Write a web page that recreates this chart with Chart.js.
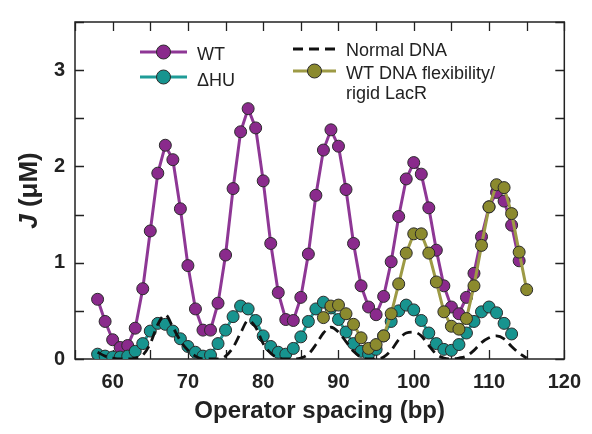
<!DOCTYPE html>
<html>
<head>
<meta charset="utf-8">
<script src="https://cdn.jsdelivr.net/npm/chart.js@4.4.1/dist/chart.umd.min.js"></script>
<style>
  html, body { margin: 0; padding: 0; background: #fff; }
  #wrap { width: 592px; height: 434px; }
</style>
</head>
<body>
<div id="wrap"><canvas id="chart" width="592" height="434"></canvas></div>
<script>
// operator spacing (bp) for each series
const wtSpacing = [58, 59, 60, 61, 62, 63, 64, 65, 66, 67, 68, 69, 70, 71, 72, 73, 74, 75, 76, 77, 78, 79, 80, 81, 82, 83, 84, 85, 86,
  87, 88, 89, 90, 91, 92, 93, 94, 95, 96, 97, 98, 99, 100, 101, 102, 103, 104, 105, 106, 107, 108, 109, 110, 111, 112, 113, 114];
const wtJ = [0.62, 0.39, 0.20, 0.12, 0.14, 0.32, 0.73, 1.33, 1.93, 2.22, 2.07, 1.56, 0.97, 0.52, 0.30, 0.30, 0.58, 1.08, 1.77, 2.36,
  2.60, 2.40, 1.85, 1.20, 0.69, 0.41, 0.40, 0.64, 1.09, 1.70, 2.17, 2.38, 2.21, 1.76, 1.20, 0.76, 0.54, 0.46, 0.65, 1.01, 1.48, 1.87,
  2.04, 1.92, 1.57, 1.13, 0.76, 0.54, 0.47, 0.64, 0.89, 1.27, 1.58, 1.73, 1.64, 1.39, 1.02];

const huSpacing = [58, 59, 60, 61, 62, 63, 64, 65, 66, 67, 68, 69, 70, 71, 72, 73, 74, 75, 76, 77, 78, 79, 80, 81, 82, 83, 84, 85, 86,
  87, 88, 89, 90, 91, 92, 93, 94, 95, 96, 97, 98, 99, 100, 101, 102, 103, 104, 105, 106, 107, 108, 109, 110, 111, 112, 113];
const huJ = [0.05, 0.03, 0.02, 0.02, 0.03, 0.08, 0.16, 0.29, 0.37, 0.36, 0.29, 0.21, 0.13, 0.07, 0.03, 0.04, 0.16, 0.30, 0.44, 0.55,
  0.52, 0.40, 0.24, 0.13, 0.07, 0.05, 0.11, 0.23, 0.39, 0.52, 0.59, 0.53, 0.41, 0.28, 0.16, 0.08, 0.05, 0.10, 0.24, 0.39, 0.50, 0.56,
  0.51, 0.40, 0.27, 0.16, 0.10, 0.09, 0.15, 0.27, 0.39, 0.49, 0.54, 0.48, 0.37, 0.26];

const rigidSpacing = [88, 89, 90, 91, 92, 93, 94, 95, 96, 97, 98, 99, 100, 101, 102, 103, 104, 105, 106, 107, 108, 109, 110, 111,
  112, 113, 114, 115];
const rigidJ = [0.43, 0.55, 0.56, 0.47, 0.36, 0.22, 0.11, 0.15, 0.24, 0.47, 0.78, 1.10, 1.30, 1.30, 1.10, 0.80, 0.49, 0.34, 0.31,
  0.42, 0.76, 1.18, 1.58, 1.81, 1.78, 1.51, 1.11, 0.72];

const normalSpacing = [58, 59, 60, 61, 62, 63, 64, 65, 66, 67, 68, 69, 70, 71, 72, 73, 74, 75, 76, 77, 78, 79, 80, 81, 82, 83, 84,
  85, 86, 87, 88, 89, 90, 91, 92, 93, 94, 95, 96, 97, 98, 99, 100, 101, 102, 103, 104, 105, 106, 107, 108, 109, 110, 111, 112, 113,
  114, 115];
const normalJ = [0.07, 0.03, 0.01, 0, 0, 0.01, 0.04, 0.16, 0.36, 0.46, 0.33, 0.19, 0.09, 0.03, 0, 0, 0, 0.03, 0.12, 0.27, 0.40,
  0.33, 0.16, 0.06, 0.01, 0, 0, 0.01, 0.05, 0.15, 0.27, 0.33, 0.28, 0.18, 0.08, 0.02, 0, 0, 0.02, 0.09, 0.20, 0.27, 0.28, 0.24,
  0.14, 0.05, 0.01, 0, 0.01, 0.03, 0.09, 0.17, 0.22, 0.24, 0.21, 0.13, 0.06, 0.01];

const xTicks = [60, 70, 80, 90, 100, 110, 120];
const yTicks = [0, 1, 2, 3];

const FONT = "'Liberation Sans', Arial, sans-serif";

function pairs(xs, ys) {
  return xs.map((x, i) => ({ x: x, y: ys[i] }));
}

function markerSet(label, xs, ys, line, fill, order) {
  return {
    label: label,
    data: pairs(xs, ys),
    borderColor: line,
    backgroundColor: fill,
    borderWidth: 3,
    pointRadius: 6,
    pointBackgroundColor: fill,
    pointBorderColor: "#2b2b2b",
    pointBorderWidth: 1,
    order: order
  };
}

// frame, inward ticks, legend and y title
const decorations = {
  id: "decorations",
  beforeDatasetsDraw(chart) {
    const { ctx, chartArea: a, scales } = chart;
    ctx.save();
    ctx.strokeStyle = "#222";
    ctx.lineWidth = 1.3;
    for (let v = 55; v <= 120; v += 5) {
      const px = Math.round(scales.x.getPixelForValue(v)) + 0.5;
      ctx.beginPath();
      ctx.moveTo(px, a.bottom); ctx.lineTo(px, a.bottom - 9);
      ctx.moveTo(px, a.top); ctx.lineTo(px, a.top + 9);
      ctx.stroke();
    }
    for (let v = 0; v <= 3.5; v += 0.5) {
      const py = Math.round(scales.y.getPixelForValue(v)) + 0.5;
      ctx.beginPath();
      ctx.moveTo(a.left, py); ctx.lineTo(a.left + 9, py);
      ctx.moveTo(a.right, py); ctx.lineTo(a.right - 9, py);
      ctx.stroke();
    }
    ctx.lineWidth = 1.5;
    ctx.strokeRect(a.left, a.top, a.right - a.left, a.bottom - a.top);
    ctx.restore();
  },
  afterDraw(chart) {
    const ctx = chart.ctx;
    const sets = chart.data.datasets;
    ctx.save();

    function entry(ds, x1, x2, y, dashed) {
      ctx.strokeStyle = ds.borderColor;
      ctx.lineWidth = ds.borderWidth;
      ctx.setLineDash(dashed ? [10, 6] : []);
      ctx.beginPath();
      ctx.moveTo(x1, y); ctx.lineTo(x2, y);
      ctx.stroke();
      ctx.setLineDash([]);
      if (!dashed) {
        ctx.beginPath();
        ctx.arc((x1 + x2) / 2, y, 7, 0, Math.PI * 2);
        ctx.fillStyle = ds.pointBackgroundColor;
        ctx.fill();
        ctx.lineWidth = 1;
        ctx.strokeStyle = "#2b2b2b";
        ctx.stroke();
      }
    }

    entry(sets[0], 140, 187, 52, false);
    entry(sets[1], 140, 187, 77, false);
    entry(sets[3], 293, 336, 49, true);
    entry(sets[2], 293, 336, 71, false);

    ctx.fillStyle = "#222";
    ctx.font = "18px " + FONT;
    ctx.textBaseline = "alphabetic";
    ctx.fillText("WT", 197, 60);
    ctx.fillText("\u0394HU", 197, 86);
    ctx.fillText("Normal DNA", 346, 56);
    ctx.fillText("WT DNA flexibility/", 346, 79);
    ctx.fillText("rigid LacR", 346, 99);

    // y axis title with italic J
    const a = chart.chartArea;
    ctx.translate(30, (a.top + a.bottom) / 2);
    ctx.rotate(-Math.PI / 2);
    ctx.textBaseline = "middle";
    ctx.font = "italic bold 26px " + FONT;
    const wJ = ctx.measureText("J").width;
    ctx.font = "bold 26px " + FONT;
    const wRest = ctx.measureText(" (\u03bcM)").width;
    const start = -(wJ + wRest) / 2;
    ctx.font = "italic bold 26px " + FONT;
    ctx.fillText("J", start, 0);
    ctx.font = "bold 26px " + FONT;
    ctx.fillText(" (\u03bcM)", start + wJ, 0);
    ctx.restore();
  }
};

new Chart(document.getElementById("chart"), {
  type: "line",
  data: {
    datasets: [
      markerSet("WT", wtSpacing, wtJ, "#8e3795", "#8a2a8c", 4),
      markerSet("\u0394HU", huSpacing, huJ, "#1f9c97", "#17948f", 3),
      markerSet("WT DNA flexibility/rigid LacR", rigidSpacing, rigidJ, "#9d9a45", "#8b8a2e", 2),
      {
        label: "Normal DNA",
        data: pairs(normalSpacing, normalJ),
        borderColor: "#111",
        borderWidth: 2.8,
        borderDash: [10, 6],
        pointRadius: 0,
        cubicInterpolationMode: "monotone",
        order: 1
      }
    ]
  },
  options: {
    responsive: false,
    animation: false,
    layout: { padding: { top: 12, right: 22, left: 0, bottom: 0 } },
    plugins: { legend: { display: false }, tooltip: { enabled: false } },
    scales: {
      x: {
        type: "linear",
        min: 55,
        max: 120,
        grid: { display: false, drawTicks: false },
        border: { display: false },
        afterBuildTicks(scale) { scale.ticks = xTicks.map(v => ({ value: v })); },
        afterFit(scale) { scale.height = 75; },
        ticks: { color: "#222", font: { family: FONT, size: 20, weight: "bold" }, padding: 11, maxRotation: 0 },
        title: { display: true, text: "Operator spacing (bp)", color: "#222",
          font: { family: FONT, size: 24, weight: "bold" }, padding: { top: 0, bottom: 8 } }
      },
      y: {
        min: 0,
        max: 3.5,
        grid: { display: false, drawTicks: false },
        border: { display: false },
        afterBuildTicks(scale) { scale.ticks = yTicks.map(v => ({ value: v })); },
        afterFit(scale) { scale.width = 75; },
        ticks: { color: "#222", font: { family: FONT, size: 20, weight: "bold" }, padding: 10 }
      }
    }
  },
  plugins: [decorations]
});
</script>
</body>
</html>
